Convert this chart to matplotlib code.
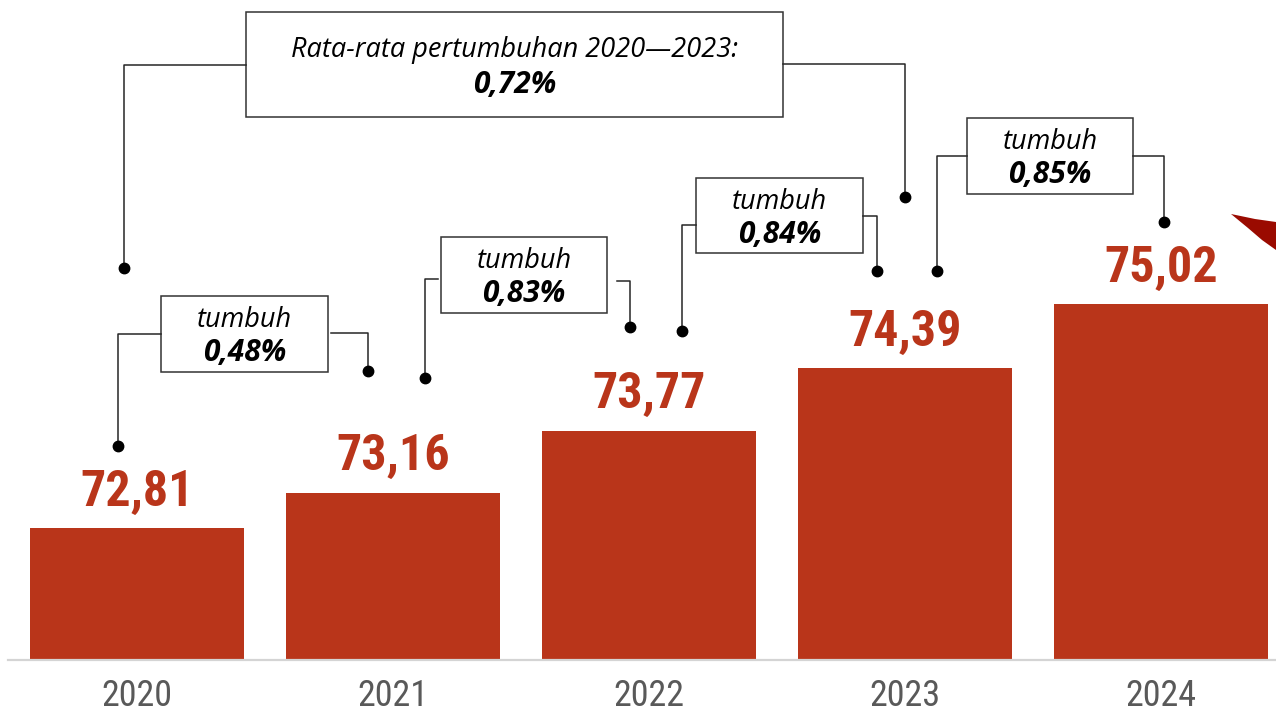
"""
Grafik batang nilai 2020-2024 dengan kotak anotasi pertumbuhan
"""
import matplotlib
matplotlib.use('Agg')
import matplotlib.pyplot as plt
from matplotlib.patches import Rectangle, Polygon
from matplotlib.transforms import Affine2D

# data
years = ['2020', '2021', '2022', '2023', '2024']
values = [72.81, 73.16, 73.77, 74.39, 75.02]
value_labels = ['72,81', '73,16', '73,77', '74,39', '75,02']
growth_labels = ['0,48%', '0,83%', '0,84%', '0,85%']
avg_title = 'Rata-rata pertumbuhan 2020\u20142023:'
avg_label = '0,72%'

BAR_COLOR = '#B9351A'
NARROW = ['Roboto Condensed', 'Liberation Sans Narrow', 'Arial Narrow',
          'Nimbus Sans Narrow', 'DejaVu Sans Condensed', 'Roboto']
ITALIC = ['Open Sans', 'DejaVu Sans']

W, H, DPI = 12.76, 7.12, 100
fig = plt.figure(figsize=(W, H), dpi=DPI)
ax = fig.add_axes([8 / 1276, 52 / 712, 1268 / 1276, 660 / 712])

x = list(range(len(years)))
ax.bar(x, values, width=0.836, color=BAR_COLOR, zorder=2)
ax.set_xlim(-0.504, 4.449)
ax.set_ylim(71.51, 78.02)

for xi, v, lab in zip(x, values, value_labels):
    ax.annotate(lab, (xi, v), xytext=(0, 9), textcoords='offset points',
                ha='center', va='bottom', fontsize=36, fontweight='bold',
                color=BAR_COLOR, family=NARROW)

ax.set_xticks(x)
ax.set_xticklabels(years, fontsize=26, color='#595959', family=NARROW)
ax.tick_params(axis='x', length=0, pad=13)
ax.set_yticks([])
for s in ['top', 'right', 'left']:
    ax.spines[s].set_visible(False)
ax.spines['bottom'].set_color('#D4D4D4')
ax.spines['bottom'].set_linewidth(1.6)

# anotasi: koordinat piksel (dari kiri atas)
px = Affine2D().scale(1 / DPI, -1 / DPI).translate(0, H) + fig.dpi_scale_trans

# (x0, y0, x1, y1), konektor kiri (start, y, x, dot_y), konektor kanan (start, y, x, dot_y)
boxes = [
    ((161, 296, 328, 372), (161, 334, 118, 446), (331, 333, 368, 371)),
    ((441, 237, 607, 313), (438, 279, 425, 378), (617, 281, 630, 327)),
    ((696, 178, 863, 253), (696, 225, 682, 331), (863, 216, 877, 271)),
    ((967, 118, 1133, 194), (967, 156, 937, 271), (1133, 156, 1164, 222)),
]
big_box = ((246, 12, 783, 117), (246, 65, 124, 268), (783, 64, 905, 197))

LINE_C = '#262626'


def draw_box(box, left, right, line1, line2, off1, off2):
    x0, y0, x1, y1 = box
    fig.add_artist(Rectangle((x0, y0), x1 - x0, y1 - y0, transform=px,
                             facecolor='white', edgecolor='#333333', lw=1.1))
    for sx, ly, lx, dy in (left, right):
        fig.add_artist(plt.Line2D([sx, lx, lx], [ly, ly, dy], transform=px,
                                  color=LINE_C, lw=1.1))
        fig.add_artist(plt.Line2D([lx], [dy], transform=px, marker='o',
                                  markersize=7.5, color='black', lw=0))
    cx = (x0 + x1) / 2
    fig.text(cx, y0 + off1, line1, transform=px, ha='center', va='baseline',
             fontsize=19.5, style='italic', family=ITALIC, color='black')
    fig.text(cx, y0 + off2, line2, transform=px, ha='center', va='baseline',
             fontsize=21.5, style='italic', fontweight='bold', family=ITALIC,
             color='black')


for (box, left, right), g in zip(boxes, growth_labels):
    draw_box(box, left, right, 'tumbuh', g, 31, 65)

draw_box(*big_box, avg_title, avg_label, 45, 81)

# potongan panah merah di pojok kanan atas
fig.add_artist(Polygon([(1231, 214), (1255, 219), (1276, 222), (1276, 250),
                        (1262, 240), (1248, 228)], closed=True, transform=px,
                       facecolor='#9A0A00', edgecolor='none'))

plt.savefig('out.png', dpi=DPI)
plt.close()
